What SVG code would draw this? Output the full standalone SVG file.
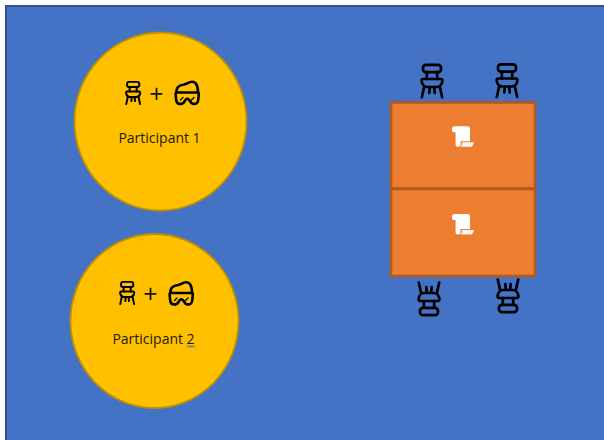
<svg xmlns="http://www.w3.org/2000/svg" xmlns:xlink="http://www.w3.org/1999/xlink" width="604" height="440" viewBox="0 0 604 440">
<style>
.bg{fill:#4472C4;stroke:#2F528F;stroke-width:2}
.person{fill:#FFC000;stroke:#BF9000;stroke-width:1.8}
.table{fill:#ED7D31;stroke:#AE5A21;stroke-width:2.6}
.ico{fill:none;stroke:#000;stroke-linecap:round;stroke-linejoin:round}
.big{stroke-width:2.7}
.small{stroke-width:2.9}
.gog{stroke-width:2.6}
.lbl{font-family:"Open Sans","Noto Sans",sans-serif;font-size:14px;fill:#1a1a0a;text-anchor:middle}
.plus{font-family:"Open Sans","Noto Sans",sans-serif;font-size:25px;fill:#111;text-anchor:middle}
</style>
<defs>
<g id="chair">
<rect x="3" y="1.300" width="18" height="7.400" rx="3" class="ico"/>
<path d="M6.800 8.700V15.500M17.200 8.700V15.500" class="ico"/>
<path d="M3 15.500H21C22 15.500 22.500 16.500 22.300 18C21.800 20.800 19.800 23.500 17 23.500H7C4.200 23.500 2.200 20.800 1.700 18C1.500 16.500 2 15.500 3 15.500Z" class="ico"/>
<path d="M4 24L1.800 34M9.800 24L9.300 29.500M14.200 24L14.700 29.500M20 24L22.200 34" class="ico"/>
</g>
<g id="goggles">
<path d="M1.500 12C1 7 4 4.500 9 4C12.500 3.500 13.500 1.200 17 1.200C21 1.200 23 5 23 12" class="ico"/>
<path d="M1.300 12H23C23.600 12 23.800 12.500 23.800 13.500L23.300 19C23 21.800 21.500 23.400 19.500 23.400H18C16 23.400 15.200 20.500 13.800 19C12.800 18.200 11.800 18.200 10.800 19C9.500 20.500 8.800 23.400 6.800 23.400H5C2.800 23.400 1.400 21.800 1.100 19L.6 13.500C.6 12.500 .8 12 1.300 12Z" class="ico"/>
<path d="M5.500 19.500L8 17M16.500 19.500L19 17" class="ico" stroke-width="1.300"/>
</g>
<g id="scroll">
<path d="M2.500 0H15.500C17 0 18 1 18 2.500V15H8.500V19C8.500 20 7.500 20.400 6.500 20.400H5.500C4.500 20.400 3.600 19.800 3.600 18.500V6H1.500C.5 6 0 5 0 3C0 1 1 0 2.500 0Z" fill="#fff"/>
<path d="M9.800 16H22L20.800 19.300C20.500 20 20 20.400 19 20.400H8.800C9.800 19.400 10.200 17.500 9.800 16Z" fill="#FEF6F0"/>
</g>
</defs>
<rect width="604" height="440" fill="#fff"/>
<rect class="bg" x="6" y="6" width="610" height="450"/>
<g id="participant-1">
<ellipse class="person" cx="160.500" cy="121.500" rx="86" ry="89"/>
<use class="small" xlink:href="#chair" href="#chair" transform="translate(125 81) scale(.68)"/>
<text class="plus" x="156.500" y="103">+</text>
<use class="gog" xlink:href="#goggles" href="#goggles" transform="translate(175 80.500)"/>
<text class="lbl" x="159.500" y="143">Participant 1</text>
</g>
<g id="participant-2">
<ellipse class="person" cx="154.500" cy="321" rx="84" ry="87"/>
<use class="small" xlink:href="#chair" href="#chair" transform="translate(119 281) scale(.68)"/>
<text class="plus" x="150.500" y="303">+</text>
<use class="gog" xlink:href="#goggles" href="#goggles" transform="translate(169 281)"/>
<text class="lbl" x="153.500" y="344">Participant 2</text>
<path d="M187 345.500l1.300 1.800 1.300-1.800 1.300 1.800 1.300-1.800 1.300 1.800 1.300-1.800" fill="none" stroke="#5B5FC7" stroke-width="1"/>
</g>
<g id="table-1">
<rect class="table" x="391" y="102.500" width="144" height="86"/>
<use xlink:href="#scroll" href="#scroll" transform="translate(452 126.300)"/>
</g>
<g id="table-2">
<rect class="table" x="391" y="189" width="144" height="87"/>
<use xlink:href="#scroll" href="#scroll" transform="translate(452 214)"/>
</g>
<g id="chair-1"><use class="big" xlink:href="#chair" href="#chair" transform="translate(420 63.500)"/></g>
<g id="chair-2"><use class="big" xlink:href="#chair" href="#chair" transform="translate(495 63)"/></g>
<g id="chair-3"><use class="big" xlink:href="#chair" href="#chair" transform="translate(441 316.500) rotate(180)"/></g>
<g id="chair-4"><use class="big" xlink:href="#chair" href="#chair" transform="translate(520 313.500) rotate(180)"/></g>
<g id="connectors"/>
</svg>
